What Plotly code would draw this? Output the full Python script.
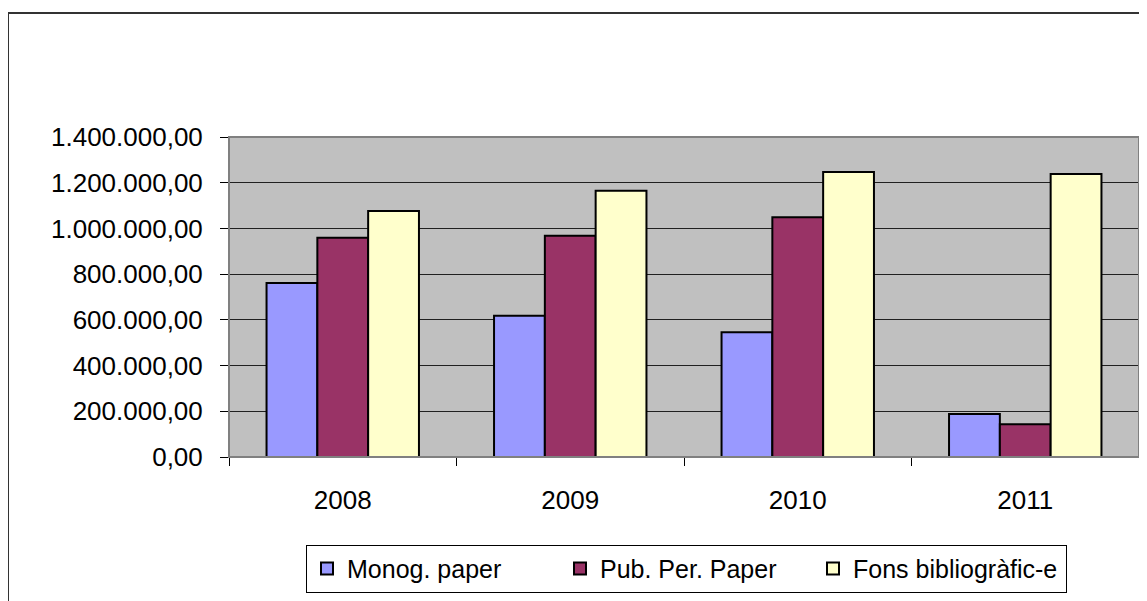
import plotly.graph_objects as go

years = ["2008", "2009", "2010", "2011"]
monog_paper = [761000, 618000, 546000, 188000]
pub_per_paper = [959000, 968000, 1049000, 143000]
fons_biblio_e = [1076000, 1165000, 1247000, 1238000]
series_names = ["Monog. paper", "Pub. Per. Paper", "Fons bibliogràfic-e"]
series_colors = ["#9999FF", "#993366", "#FFFFCC"]
y_ticks = [0, 200000, 400000, 600000, 800000, 1000000, 1200000, 1400000]

# page body has an 8px margin, so the figure is drawn 8px right / down
OFF = 8
W, H = 1147 - OFF, 601 - OFF
ML, MT = 229 - OFF, 137 - OFF
PW, PH = 910, 325
MR = W - ML - PW
MB = H - MT - PH

fig = go.Figure()
for name, vals, col in zip(series_names, [monog_paper, pub_per_paper, fons_biblio_e], series_colors):
    fig.add_trace(go.Bar(
        x=years, y=vals, name=name,
        marker=dict(color=col, line=dict(color="black", width=2)),
    ))

font_family = "Liberation Sans, Arial, sans-serif"

def sx(px):  # screen px -> paper x
    return (px - OFF - ML) / PW

def sy(py):  # screen px -> paper y
    return (MT + PH - (py - OFF)) / PH

fig.update_layout(
    width=W, height=H,
    margin=dict(l=ML, r=MR, t=MT, b=MB, pad=0),
    paper_bgcolor="white",
    plot_bgcolor="#C0C0C0",
    separators=",.",
    barmode="group",
    bargap=0.33,
    bargroupgap=0,
    font=dict(family=font_family, size=26, color="black"),
    showlegend=True,
    legend=dict(
        orientation="h",
        x=sx(306), xanchor="left",
        y=sy(551), yanchor="top",
        bordercolor="black", borderwidth=1, bgcolor="white",
        font=dict(family=font_family, size=25, color="black"),
        itemwidth=30,
        entrywidth=208, entrywidthmode="pixels",
        tracegroupgap=0,
    ),
    xaxis=dict(
        type="category",
        showline=True, linecolor="black", linewidth=1,
        ticks="outside", ticklen=8, tickcolor="black",
        tickson="boundaries",
        showgrid=False,
        tickfont=dict(size=26),
        ticklabelstandoff=20,
    ),
    yaxis=dict(
        range=[0, 1400000],
        tickvals=y_ticks,
        tickformat=",.2f",
        showline=True, linecolor="black", linewidth=1,
        ticks="outside", ticklen=8, tickcolor="black",
        showgrid=True, gridcolor="#202020", gridwidth=1,
        zeroline=False,
        tickfont=dict(size=26),
        ticklabelstandoff=12,
    ),
    shapes=[
        dict(type="rect", xref="paper", yref="paper",
             x0=0, x1=1, y0=0, y1=1,
             line=dict(color="#808080", width=2), layer="above"),
        dict(type="rect", xref="paper", yref="paper",
             x0=sx(8), x1=sx(1300),
             y0=sy(800), y1=sy(11),
             line=dict(color="#333333", width=2)),
    ],
)

fig.write_html("out.html")
